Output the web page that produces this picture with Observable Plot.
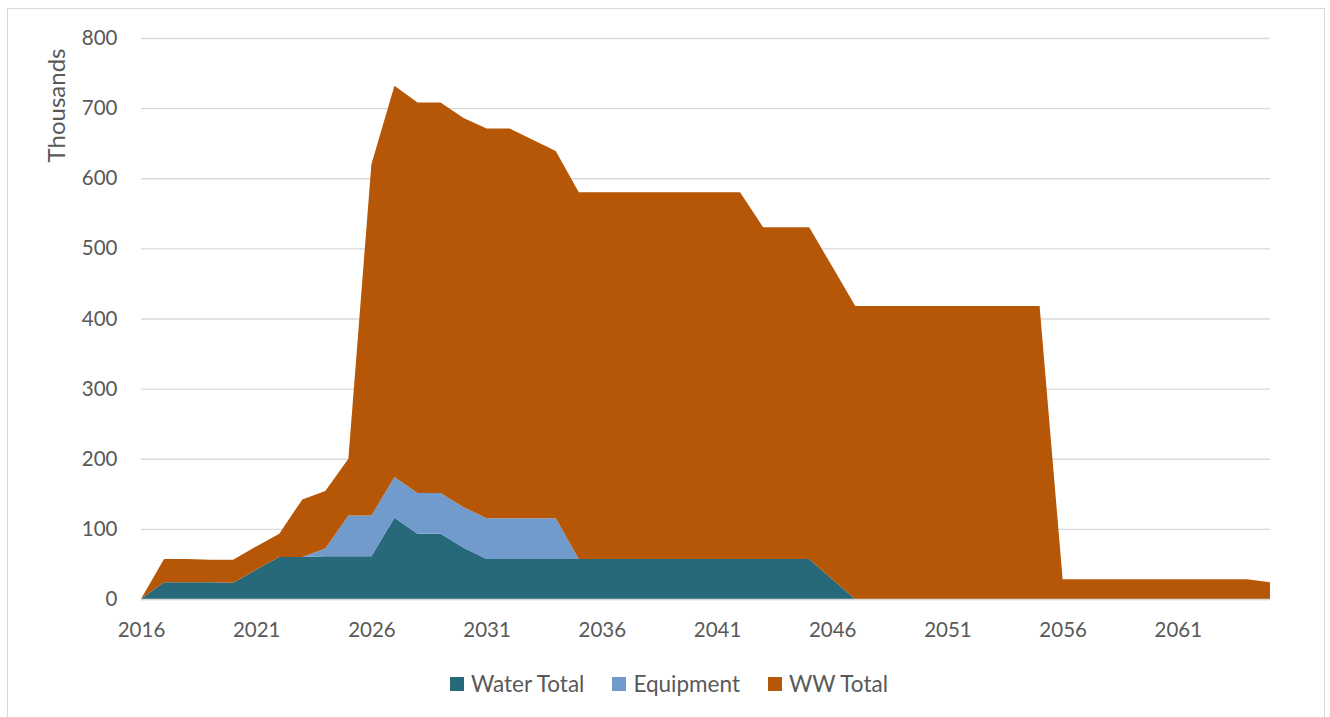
<!DOCTYPE html>
<html>
<head>
<meta charset="utf-8">
<script src="https://cdn.jsdelivr.net/npm/d3@7"></script>
<script src="https://cdn.jsdelivr.net/npm/@observablehq/plot@0.6"></script>
<style>
  html, body { margin: 0; padding: 0; background: #fff; width: 1330px; height: 717px; overflow: hidden; }
  #wrap { position: relative; width: 1330px; height: 717px; }
  #frame { position: absolute; left: 7px; top: 8px; width: 1316px; height: 730px; border: 1.5px solid #d9d9d9; pointer-events: none; }
  #chart { position: absolute; left: 0; top: 0; }
  #legend { position: absolute; left: 4px; top: 670px; width: 1330px; display: flex; justify-content: center; align-items: center;
            font-family: Lato, "Open Sans", sans-serif; font-size: 22.5px; color: #595959; }
  .item { display: flex; align-items: center; margin: 0 14px; }
  .sw { width: 14px; height: 14px; margin-right: 7px; }
</style>
</head>
<body>
<div id="wrap">
  <div id="chart"></div>
  <div id="legend"></div>
  <div id="frame"></div>
</div>
<script>
const years = d3.range(2016, 2066);
const seriesNames = ["Water Total", "Equipment", "WW Total"];
const seriesColors = ["#27697b", "#729bcd", "#b65707"];

// Values in thousands, 2016..2065
const waterTotal = [
  0, 24, 24, 24, 23, 42, 60, 60, 61, 61,
  61, 116, 93, 93, 73, 57, 57, 57, 57, 57,
  57, 57, 57, 57, 57, 57, 57, 57, 57, 57,
  28, 0, 0, 0, 0, 0, 0, 0, 0, 0,
  0, 0, 0, 0, 0, 0, 0, 0, 0, 0
];
const equipment = [
  0, 0, 0, 0, 0, 0, 0, 0, 11, 58,
  58, 58, 58, 58, 58, 58, 58, 58, 58, 0,
  0, 0, 0, 0, 0, 0, 0, 0, 0, 0,
  0, 0, 0, 0, 0, 0, 0, 0, 0, 0,
  0, 0, 0, 0, 0, 0, 0, 0, 0, 0
];
const wwTotal = [
  0, 33, 33, 32, 33, 33, 33, 82, 82, 81,
  501, 558, 557, 557, 555, 556, 556, 540, 524, 523,
  523, 523, 523, 523, 523, 523, 523, 473, 473, 473,
  446, 418, 418, 418, 418, 418, 418, 418, 418, 418,
  28, 28, 28, 28, 28, 28, 28, 28, 28, 24
];

const xTicks = [2016, 2021, 2026, 2031, 2036, 2041, 2046, 2051, 2056, 2061];
const yTicks = [0, 100, 200, 300, 400, 500, 600, 700, 800];
const yTitle = ["Thousands"];

const seriesValues = [waterTotal, equipment, wwTotal];
const table = [];
seriesNames.forEach((name, s) => {
  years.forEach((yr, i) => table.push({year: yr, series: name, value: seriesValues[s][i]}));
});

const W = 1330, H = 660;
const chart = Plot.plot({
  width: W,
  height: H,
  marginLeft: 141,
  marginRight: 60,
  marginTop: 38,
  marginBottom: H - 599,
  style: {fontFamily: "Lato, 'Open Sans', sans-serif", fontSize: "20.5px", color: "#595959", background: "transparent"},
  x: {domain: [2016, 2065], ticks: xTicks, tickFormat: "d"},
  y: {domain: [0, 800], ticks: yTicks},
  color: {domain: seriesNames, range: seriesColors},
  marks: [
    Plot.gridY(yTicks, {stroke: "#d9d9d9", strokeOpacity: 1, strokeWidth: 1.3}),
    Plot.areaY(table, Plot.stackY({x: "year", y: "value", z: "series", fill: "series", order: seriesNames, curve: "linear"})),
    Plot.ruleY([0], {stroke: "#d9d9d9", strokeWidth: 1.3}),
    Plot.axisX(xTicks, {tickSize: 0, tickPadding: 23, label: null, tickFormat: "d"}),
    Plot.axisY(yTicks, {tickSize: 0, tickPadding: 24, label: null}),
    Plot.text(yTitle, {frameAnchor: "top-left", dx: -84, dy: 10, rotate: -90, textAnchor: "end", lineAnchor: "middle", fill: "#595959", fontSize: 24})
  ]
});
document.getElementById("chart").appendChild(chart);

const legend = document.getElementById("legend");
seriesNames.forEach((name, i) => {
  const it = document.createElement("div");
  it.className = "item";
  const sw = document.createElement("div");
  sw.className = "sw";
  sw.style.background = seriesColors[i];
  const lb = document.createElement("span");
  lb.textContent = name;
  it.appendChild(sw); it.appendChild(lb);
  legend.appendChild(it);
});
</script>
</body>
</html>
